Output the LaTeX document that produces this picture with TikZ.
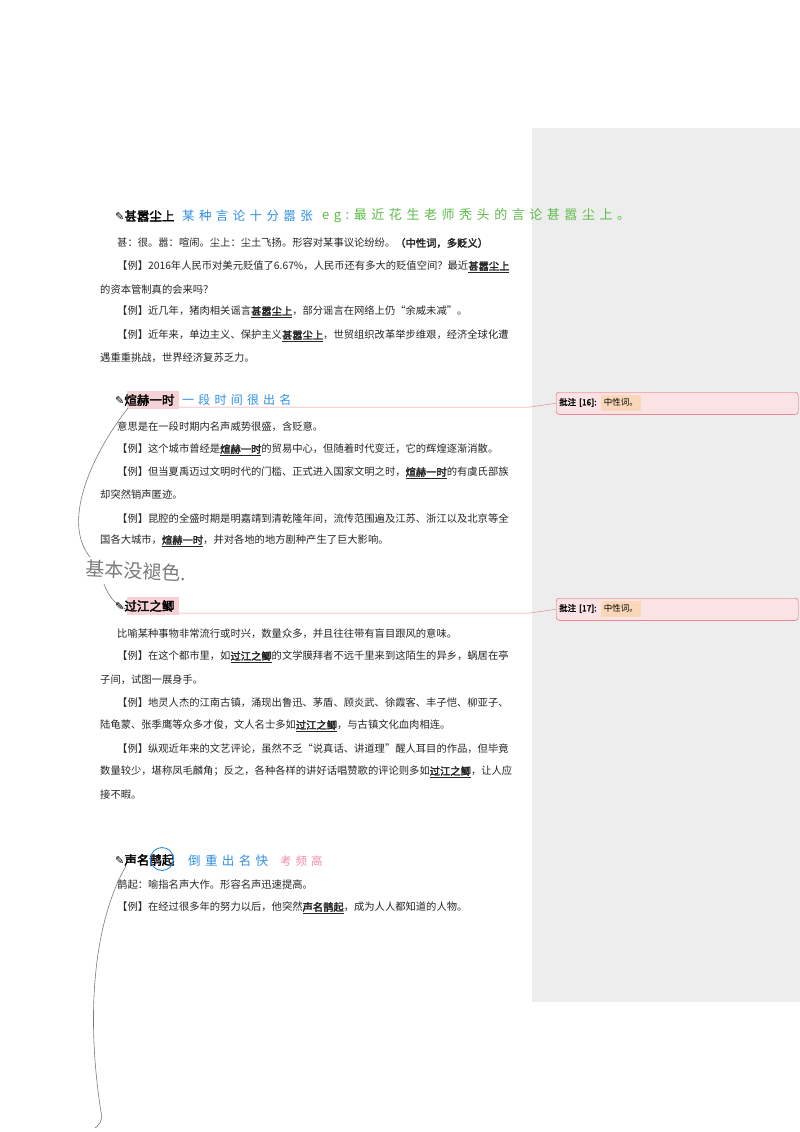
\documentclass[tikz,border=0pt]{standalone}
\usepackage{fontspec}
\setmainfont{Noto Sans CJK SC}[AutoFakeBold=2.5]
\newfontfamily\hand{Noto Sans CJK SC}[LetterSpace=35]
\newfontfamily\dvs{DejaVu Sans}
\definecolor{hblue}{HTML}{2E8FE8}
\definecolor{hgreen}{HTML}{5DBB4A}
\definecolor{hpink}{HTML}{F08BB0}
\definecolor{cmtfill}{HTML}{FBE3E5}
\definecolor{cmtline}{HTML}{E05A66}
\definecolor{hl}{HTML}{F6D2D6}
\definecolor{orng}{HTML}{F9D7B8}
\definecolor{pen}{HTML}{7A7A7A}
\newcommand{\kw}[1]{\underline{\textbf{#1}}}
\newcommand{\pencil}{{\dvs\fontsize{11}{12}\selectfont ✎}}
\begin{document}
\begin{tikzpicture}[x=1pt,y=-1pt,
  txt/.style={anchor=west,inner sep=0pt,font=\fontsize{10.3}{12}\selectfont,text=black!85},
  head/.style={anchor=west,inner sep=0pt,font=\fontsize{12.5}{14}\selectfont\bfseries},
  hw/.style={anchor=west,inner sep=0pt,font=\fontsize{12.5}{14}\hand},
  cmt/.style={draw=cmtline,fill=cmtfill,rounded corners=3pt,minimum width=242pt,minimum height=20pt,anchor=north west,inner sep=3pt,font=\fontsize{8.5}{10}\selectfont,text width=236pt,align=left},
  pline/.style={draw=pen,line width=0.6pt}]
\useasboundingbox (0,0) rectangle (800,1132);
\fill[white] (0,0) rectangle (800,1132);
\fill[black!7] (532,128) rectangle (800,1002);

% Section 1
\node[head] (h1) at (115,216) {\pencil 甚嚣尘上};
\node[hw,text=hblue] (h1a) at (182,216) {某种言论十分嚣张};
\node[hw,text=hgreen,font=\fontsize{13}{14}\hand] (h1b) at (322,216) {eg:最近花生老师秃头的言论甚嚣尘上。};
\node[txt] (a1) at (117,243) {甚：很。嚣：喧闹。尘上：尘土飞扬。形容对某事议论纷纷。\textbf{（中性词，多贬义）}};
\node[txt] (a2) at (117,267) {【例】2016年人民币对美元贬值了6.67\%，人民币还有多大的贬值空间？最近\kw{甚嚣尘上}};
\node[txt] (a3) at (100,290) {的资本管制真的会来吗？};
\node[txt] (a4) at (117,312) {【例】近几年，猪肉相关谣言\kw{甚嚣尘上}，部分谣言在网络上仍“余威未减”。};
\node[txt] (a5) at (117,336) {【例】近年来，单边主义、保护主义\kw{甚嚣尘上}，世贸组织改革举步维艰，经济全球化遭};
\node[txt] (a6) at (100,358) {遇重重挑战，世界经济复苏乏力。};

% Section 2
\fill[hl] (127,391) rectangle (179,409);
\node[head] (h2) at (115,400) {\pencil 煊赫一时};
\node[hw,text=hblue,font=\fontsize{12}{14}\hand] (h2a) at (182,400) {一段时间很出名};
\node[cmt] (c16) at (556,392) {\textbf{批注 [16]:} \colorbox{orng}{\strut 中性词。}};
\coordinate (k16) at (530,407);
\draw[cmtline!70,line width=0.5pt] (179,407) -- (k16) -- (c16.west);
\node[txt] (b1) at (117,427) {意思是在一段时期内名声威势很盛，含贬意。};
\node[txt] (b2) at (117,450) {【例】这个城市曾经是\kw{煊赫一时}的贸易中心，但随着时代变迁，它的辉煌逐渐消散。};
\node[txt] (b3) at (117,473) {【例】但当夏禹迈过文明时代的门槛、正式进入国家文明之时，\kw{煊赫一时}的有虞氏部族};
\node[txt] (b4) at (100,495) {却突然销声匿迹。};
\node[txt] (b5) at (117,519) {【例】昆腔的全盛时期是明嘉靖到清乾隆年间，流传范围遍及江苏、浙江以及北京等全};
\node[txt] (b6) at (100,541) {国各大城市，\kw{煊赫一时}，并对各地的地方剧种产生了巨大影响。};
\node[anchor=west,inner sep=0pt,text=pen,font=\fontsize{19}{20}\selectfont,rotate=-3] (note) at (86,568) {基本没褪色.};
\draw[pline] (128,408) .. controls (95,450) and (60,520) .. (90,557);
\draw[pline] (104,584) .. controls (110,600) and (118,606) .. (128,610);

% Section 3
\fill[hl] (127,597) rectangle (179,615);
\node[head] (h3) at (115,606) {\pencil 过江之鲫};
\node[cmt] (c17) at (556,598) {\textbf{批注 [17]:} \colorbox{orng}{\strut 中性词。}};
\coordinate (k17) at (530,613);
\draw[cmtline!70,line width=0.5pt] (179,613) -- (k17) -- (c17.west);
\node[txt] (d1) at (117,634) {比喻某种事物非常流行或时兴，数量众多，并且往往带有盲目跟风的意味。};
\node[txt] (d2) at (117,657) {【例】在这个都市里，如\kw{过江之鲫}的文学膜拜者不远千里来到这陌生的异乡，蜗居在亭};
\node[txt] (d3) at (100,680) {子间，试图一展身手。};
\node[txt] (d4) at (117,703) {【例】地灵人杰的江南古镇，涌现出鲁迅、茅盾、顾炎武、徐霞客、丰子恺、柳亚子、};
\node[txt] (d5) at (100,726) {陆龟蒙、张季鹰等众多才俊，文人名士多如\kw{过江之鲫}，与古镇文化血肉相连。};
\node[txt] (d6) at (117,749) {【例】纵观近年来的文艺评论，虽然不乏“说真话、讲道理”醒人耳目的作品，但毕竟};
\node[txt] (d7) at (100,772) {数量较少，堪称凤毛麟角；反之，各种各样的讲好话唱赞歌的评论则多如\kw{过江之鲫}，让人应};
\node[txt] (d8) at (100,795) {接不暇。};

% Section 4
\node[head] (h4) at (115,860) {\pencil 声名鹊起};
\draw[hblue,line width=0.9pt] (162,859) circle[radius=11.5];
\node[hw,text=hblue] (h4a) at (188,861) {倒重出名快};
\node[hw,text=hpink,font=\fontsize{11.5}{14}\hand] (h4b) at (280,861) {考频高};
\node[txt] (e1) at (117,885) {鹊起：喻指名声大作。形容名声迅速提高。};
\node[txt] (e2) at (117,908) {【例】在经过很多年的努力以后，他突然\kw{声名鹊起}，成为人人都知道的人物。};
\draw[pline] (126,866) .. controls (95,920) and (85,1010) .. (101,1112) .. controls (104,1120) and (98,1126) .. (95,1128);
\end{tikzpicture}
\end{document}
